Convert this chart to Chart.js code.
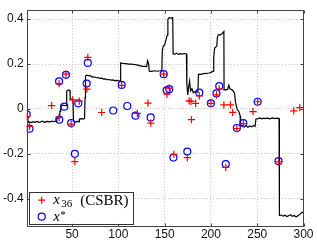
<!DOCTYPE html>
<html><head><meta charset="utf-8">
<script src="https://cdn.jsdelivr.net/npm/chart.js@4.4.1/dist/chart.umd.min.js"></script>
<style>html,body{margin:0;padding:0;background:#fff;}canvas{display:block;}</style>
</head><body>
<canvas id="c" width="317" height="240"></canvas>
<script>
// ---- data ----
const xTicks = [50, 100, 150, 200, 250, 300];
const yTicks = [-0.4, -0.2, 0, 0.2, 0.4];
const yTickLabels = ['-0.4', '-0.2', '0', '0.2', '0.4'];

// CSBR estimate x_36 (red plus)
const plusX = [1, 4, 28, 36, 36, 43.4, 50.7, 49, 53, 57.8, 66, 67, 82, 103.6, 120.5, 132, 135, 149, 152.5, 155, 160, 174.5, 176.5, 178.5, 179, 183.5, 187.5, 200, 206, 209, 214, 216, 221, 223.5, 228, 235, 245.5, 250.5, 273, 289.5, 296];
const plusY = [-0.034, -0.078, 0.015, 0.113, -0.038, 0.155, 0.04, -0.068, -0.235, 0.035, 0.088, 0.23, -0.016, 0.105, -0.02, 0.026, -0.063, 0.155, 0.066, 0.093, -0.202, -0.217, 0.036, 0.034, -0.048, 0.025, 0.058, 0.025, 0.063, 0.088, 0.018, -0.261, 0.018, -0.015, -0.088, -0.066, -0.012, 0.032, -0.236, -0.009, 0.006];

// true signal x* (blue circles)
const circX = [1, 4, 36, 36.2, 41.6, 43.4, 49, 53, 56.7, 65.8, 67, 94.5, 103.6, 109.6, 118.5, 134.9, 149, 152.2, 155, 159.5, 174.5, 187.5, 200, 206, 209, 216, 228, 235, 250.5, 273];
const circY = [-0.024, -0.088, 0.123, -0.048, 0.01, 0.152, -0.063, -0.2, 0.025, 0.113, 0.205, -0.007, 0.107, 0.013, -0.03, -0.038, 0.155, 0.083, 0.088, -0.217, -0.19, 0.073, 0.025, 0.069, 0.102, -0.246, -0.085, -0.063, 0.032, -0.233];

// black step curve
const lineX = [1, 2, 2.5, 4, 6, 8, 10, 12, 14, 16, 18, 20, 22, 24, 26, 28, 30, 32, 33.4,
  33.5, 36.5, 37, 37.5, 38, 38.5, 41, 43.8, 44.2, 46, 47.8, 48, 51, 51.5, 52.5, 54, 56, 57.5, 58, 60, 62, 63.5, 64, 64.5,
  66, 68, 70, 72, 74, 76, 78, 80, 82, 84, 86, 88, 90, 92, 94, 96, 98, 100, 102,
  102.5, 105, 108, 111, 114, 117, 120, 123, 126, 129, 130.5, 131.5, 132.5, 133.5, 136, 139, 142, 145, 147,
  147.1, 147.5, 148.5, 150, 151, 152.2, 153, 153.5, 155, 157, 158.7, 159.2, 161, 163, 165, 167, 169, 171, 173.5,
  174, 175, 176, 177, 178, 179.5, 181, 183, 185, 186, 186.5, 189, 192, 195, 198, 200, 202.5,
  203, 204, 205, 206.3, 207, 208, 210, 212, 214, 214.2, 216, 218, 219.3, 220.5, 222.7, 224, 225.5, 226.5, 228.5, 230, 231.5, 232, 234, 236, 238, 240, 242, 244, 246, 247.6,
  248.7, 251, 253, 255, 257, 259, 261, 263, 265, 267, 269, 271, 273.6, 274, 276, 278, 280, 282, 284, 286, 288, 290, 292, 294, 296, 298, 300];
const lineY = [-0.03, -0.035, -0.06, -0.058, -0.061, -0.057, -0.06, -0.056, -0.06, -0.058, -0.055, -0.06, -0.057, -0.056, -0.059, -0.055, -0.057, -0.054, -0.056,
  -0.042, -0.04, -0.01, 0.015, 0.0, 0.018, 0.016, 0.014, 0.08, 0.085, 0.082, 0.045, 0.042, -0.05, -0.06, -0.058, -0.056, -0.057, -0.045, -0.043, -0.045, -0.042, 0.05, 0.146,
  0.15, 0.148, 0.147, 0.142, 0.143, 0.139, 0.14, 0.136, 0.137, 0.133, 0.134, 0.13, 0.131, 0.128, 0.129, 0.126, 0.127, 0.125, 0.126,
  0.205, 0.203, 0.202, 0.2, 0.2, 0.198, 0.196, 0.193, 0.19, 0.19, 0.188, 0.215, 0.205, 0.168, 0.167, 0.17, 0.168, 0.17, 0.172,
  0.2, 0.26, 0.28, 0.285, 0.3, 0.32, 0.33, 0.4, 0.407, 0.405, 0.407, 0.245, 0.244, 0.248, 0.243, 0.246, 0.244, 0.247, 0.245,
  0.11, 0.062, 0.1, 0.125, 0.08, 0.09, 0.072, 0.078, 0.075, 0.08, 0.155, 0.154, 0.157, 0.158, 0.16, 0.163, 0.168,
  0.23, 0.27, 0.275, 0.28, 0.32, 0.33, 0.33, 0.335, 0.345, 0.085, 0.085, 0.087, 0.105, 0.09, 0.085, 0.08, 0.07, 0.03, -0.004, -0.01, -0.03, -0.075, -0.072, -0.08, -0.074, -0.082, -0.076, -0.08, -0.074, -0.078,
  -0.045, -0.043, -0.04, -0.044, -0.041, -0.043, -0.04, -0.044, -0.042, -0.04, -0.043, -0.041, -0.043, -0.475, -0.473, -0.478, -0.474, -0.48, -0.476, -0.472, -0.479, -0.475, -0.482, -0.476, -0.47, -0.462, -0.46];

const toPts = (xs, ys) => xs.map((x, i) => ({x: x, y: ys[i]}));

// ---- plugins ----
const framePlugin = {
  id: 'frame',
  afterDatasetsDraw(chart) {
    const {ctx, chartArea: a, scales} = chart;
    ctx.save();
    ctx.strokeStyle = '#444';
    ctx.lineWidth = 1;
    const L = Math.round(a.left) + 0.5, R = Math.round(a.right) - 0.5;
    const T = Math.round(a.top) + 0.5, B = Math.round(a.bottom) - 0.5;
    ctx.strokeRect(L, T, R - L, B - T);
    ctx.beginPath();
    const tl = 3;
    xTicks.forEach(v => {
      const px = Math.round(scales.x.getPixelForValue(v)) + 0.5;
      ctx.moveTo(px, B); ctx.lineTo(px, B - tl);
      ctx.moveTo(px, T); ctx.lineTo(px, T + tl);
    });
    yTicks.forEach(v => {
      const py = Math.round(scales.y.getPixelForValue(v)) + 0.5;
      ctx.moveTo(L, py); ctx.lineTo(L + tl, py);
      ctx.moveTo(R, py); ctx.lineTo(R - tl, py);
    });
    ctx.stroke();

    // legend box
    const lx = a.left + 2.5, ly = a.bottom - 35, lw = 104, lh = 32;
    ctx.fillStyle = '#fff';
    ctx.fillRect(lx, ly, lw, lh);
    ctx.strokeStyle = '#333';
    ctx.strokeRect(Math.round(lx) + 0.5, Math.round(ly) + 0.5, lw, lh);
    // markers
    const mx = lx + 12.5;
    const y1 = ly + 8.5, y2 = ly + 25;
    ctx.strokeStyle = '#ff0000';
    ctx.lineWidth = 1.2;
    ctx.beginPath();
    ctx.moveTo(mx - 3.5, y1); ctx.lineTo(mx + 3.5, y1);
    ctx.moveTo(mx, y1 - 3.5); ctx.lineTo(mx, y1 + 3.5);
    ctx.stroke();
    ctx.strokeStyle = '#0000ff';
    ctx.beginPath();
    ctx.arc(mx, y2, 3.5, 0, Math.PI * 2);
    ctx.stroke();
    // texts
    ctx.fillStyle = '#000';
    ctx.textBaseline = 'alphabetic';
    ctx.textAlign = 'left';
    let tx = lx + 24;
    ctx.font = 'italic 15px "Liberation Serif", "DejaVu Serif", serif';
    ctx.fillText('x', tx, y1 + 4);
    tx += ctx.measureText('x').width + 1.5;
    ctx.font = '11px "Liberation Serif", "DejaVu Serif", serif';
    ctx.fillText('36', tx, y1 + 7);
    ctx.font = '15px "Liberation Serif", "DejaVu Serif", serif';
    ctx.fillText('(CSBR)', lx + 51, y1 + 5);
    tx = lx + 24;
    ctx.font = 'italic 15px "Liberation Serif", "DejaVu Serif", serif';
    ctx.fillText('x', tx, y2 + 4);
    tx += ctx.measureText('x').width + 0.5;
    ctx.font = '11px "Liberation Serif", "DejaVu Serif", serif';
    ctx.fillText('*', tx, y2 + 1);
    ctx.restore();
  }
};

const tickFont = {family: '"Liberation Sans", Arial, sans-serif', size: 12};

new Chart(document.getElementById('c'), {
  type: 'scatter',
  data: {
    datasets: [
      {
        label: 'x36 (CSBR)',
        data: toPts(plusX, plusY),
        pointStyle: 'cross',
        pointRadius: 3.6,
        pointBorderColor: '#ff0000',
        pointBorderWidth: 1.2,
        showLine: false
      },
      {
        label: 'x*',
        data: toPts(circX, circY),
        pointStyle: 'circle',
        pointRadius: 3.5,
        pointBorderColor: '#0000ff',
        pointBackgroundColor: 'rgba(0,0,0,0)',
        pointBorderWidth: 1.2,
        showLine: false
      },
      {
        label: 'signal',
        data: toPts(lineX, lineY),
        showLine: true,
        borderColor: '#000',
        borderWidth: 1.2,
        pointRadius: 0,
        tension: 0
      }
    ]
  },
  options: {
    responsive: false,
    animation: false,
    devicePixelRatio: 1,
    layout: {padding: {left: 0, right: 13.5, top: 7, bottom: 0}},
    plugins: {legend: {display: false}, tooltip: {enabled: false}},
    scales: {
      x: {
        type: 'linear', min: 1, max: 300,
        afterBuildTicks: s => { s.ticks = xTicks.map(v => ({value: v})); },
        afterFit: s => { s.height = 13.3; },
        ticks: {color: '#111', font: tickFont, padding: 1, maxRotation: 0, autoSkip: false,
                callback: v => String(v)},
        grid: {color: '#c4c4c4', lineWidth: 1, drawTicks: false},
        border: {display: false, dash: [1, 2]}
      },
      y: {
        type: 'linear', min: -0.525, max: 0.44,
        afterBuildTicks: s => { s.ticks = yTicks.map(v => ({value: v})); },
        afterFit: s => { s.width = 26.7; },
        ticks: {color: '#111', font: tickFont, padding: 3, autoSkip: false,
                callback: v => { const i = yTicks.findIndex(t => Math.abs(t - v) < 1e-9); return i >= 0 ? yTickLabels[i] : ''; }},
        grid: {color: '#c4c4c4', lineWidth: 1, drawTicks: false},
        border: {display: false, dash: [1, 2]}
      }
    }
  },
  plugins: [framePlugin]
});
</script>
</body></html>
